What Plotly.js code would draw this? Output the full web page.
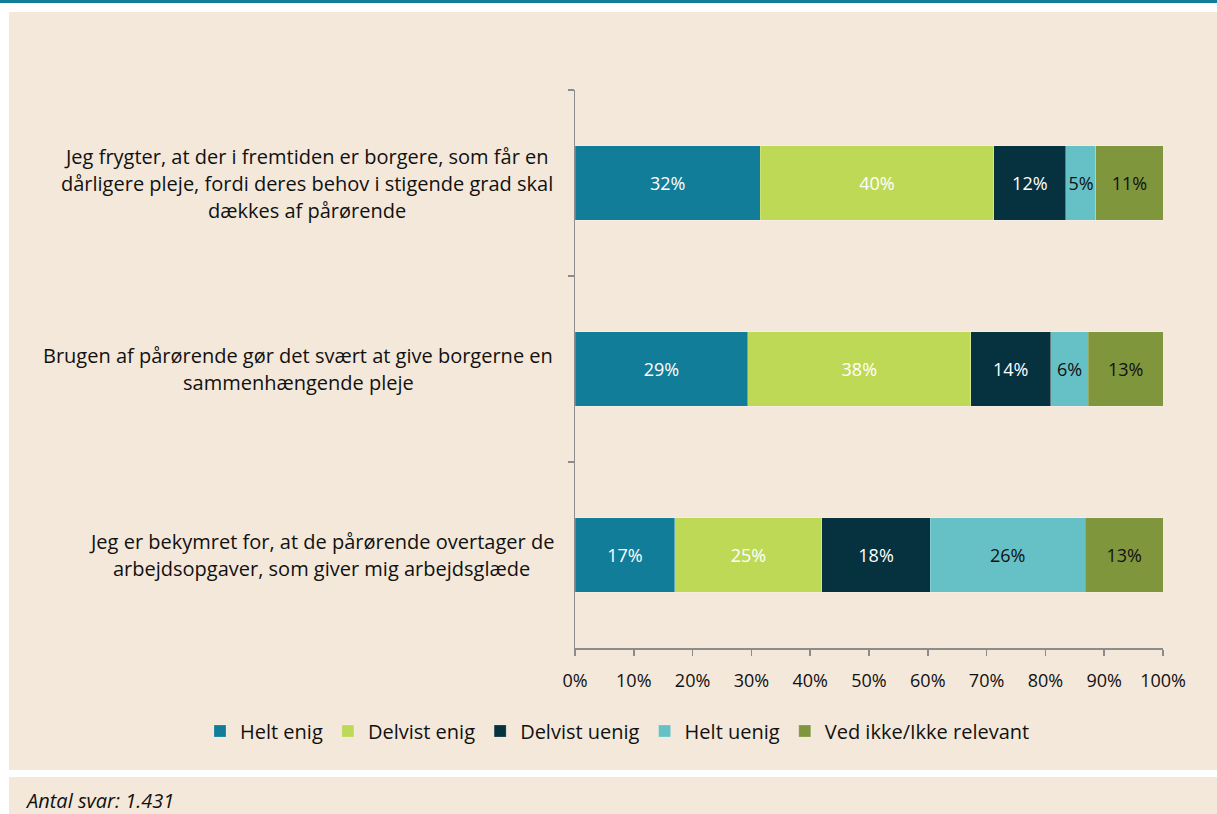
<!DOCTYPE html>
<html>
<head>
<meta charset="utf-8">
<script src="https://cdn.plot.ly/plotly-3.0.1.min.js"></script>
<style>html,body{margin:0;padding:0;background:#fff;}#chart{width:1217px;height:814px;}</style>
</head>
<body>
<div id="chart"></div>
<script>
// ---- data ----
const categories = [
  "Jeg frygter, at der i fremtiden er borgere, som får en<br>dårligere pleje, fordi deres behov i stigende grad skal<br>dækkes af pårørende",
  "Brugen af pårørende gør det svært at give borgerne en<br>sammenhængende pleje",
  "Jeg er bekymret for, at de pårørende overtager de<br>arbejdsopgaver, som giver mig arbejdsglæde"
];
const seriesNames = ["Helt enig", "Delvist enig", "Delvist uenig", "Helt uenig", "Ved ikke/Ikke relevant"];
const heltEnig     = [31.5, 29.4, 17.0];
const delvistEnig  = [39.7, 37.9, 25.0];
const delvistUenig = [12.3, 13.6, 18.4];
const heltUenig    = [5.1, 6.4, 26.4];
const vedIkke      = [11.4, 12.7, 13.2];
const xTickVals = [0,10,20,30,40,50,60,70,80,90,100];
const xTickText = ["0%","10%","20%","30%","40%","50%","60%","70%","80%","90%","100%"];
const footnote = "Antal svar: 1.431";

// ---- style ----
const W = 1217, H = 814;
const M = {l: 575, r: 54, t: 90, b: 166};
const PW = W - M.l - M.r, PH = H - M.t - M.b;
const px2x = p => (p - M.l) / PW;
const py2y = p => (H - M.b - p) / PH;
const FONT = "'Open Sans', 'Noto Sans', sans-serif";
const colors = ["#117D99", "#BED956", "#06313F", "#66C1C6", "#80963D"];
const textColors = ["#ffffff", "#ffffff", "#ffffff", "#111111", "#111111"];
const beige = "#F4E8DA";

const values = [heltEnig, delvistEnig, delvistUenig, heltUenig, vedIkke];
const traces = values.map((v, i) => ({
  type: "bar",
  orientation: "h",
  name: seriesNames[i],
  y: categories,
  x: v,
  marker: {color: colors[i], line: {color: "rgba(255,255,255,0.25)", width: 0.8}},
  texttemplate: "%{x:.0f}%",
  textposition: "inside",
  insidetextanchor: "middle",
  textangle: 0,
  constraintext: "none",
  textfont: {family: FONT, size: 18, color: textColors[i]},
  hoverinfo: "skip"
}));

// category labels as centered multi-line annotations
const ctx = document.createElement("canvas").getContext("2d");
const LBL_SIZE = 20;
ctx.font = LBL_SIZE + "px 'Open Sans'";
const annotations = [];
const lineGap = 27;
categories.forEach(cat => {
  const lines = cat.split("<br>");
  const maxW = Math.max(...lines.map(l => ctx.measureText(l).width));
  const cx = 553 - maxW / 2;
  lines.forEach((ln, i) => {
    annotations.push({
      xref: "paper", yref: "y", x: px2x(cx), y: cat,
      xanchor: "center", yanchor: "middle",
      yshift: -(i - (lines.length - 1) / 2) * lineGap,
      text: ln, showarrow: false,
      font: {family: FONT, size: LBL_SIZE, color: "#111111"}
    });
  });
});
annotations.push({
  xref: "paper", yref: "paper", x: px2x(23), y: py2y(800),
  xanchor: "left", yanchor: "middle", showarrow: false,
  text: "<i>" + footnote + "</i>",
  font: {family: FONT, size: 20, color: "#111111"}
});

const shapes = [
  {type: "rect", xref: "paper", yref: "paper", x0: px2x(0), x1: px2x(W), y0: py2y(12), y1: py2y(0), fillcolor: "#ffffff", line: {width: 0}, layer: "above"},
  {type: "rect", xref: "paper", yref: "paper", x0: px2x(0), x1: px2x(9), y0: py2y(H), y1: py2y(0), fillcolor: "#ffffff", line: {width: 0}, layer: "above"},
  {type: "rect", xref: "paper", yref: "paper", x0: px2x(0), x1: px2x(W), y0: py2y(777), y1: py2y(770), fillcolor: "#ffffff", line: {width: 0}, layer: "above"},
  {type: "rect", xref: "paper", yref: "paper", x0: px2x(0), x1: px2x(W), y0: py2y(3), y1: py2y(0), fillcolor: "#117D99", line: {width: 0}, layer: "above"}
];

const layout = {
  width: W, height: H,
  margin: M,
  paper_bgcolor: beige,
  plot_bgcolor: beige,
  barmode: "stack",
  bargap: 0.6,
  showlegend: true,
  font: {family: FONT, size: 18, color: "#111111"},
  xaxis: {
    range: [0, 100], tickvals: xTickVals, ticktext: xTickText,
    showgrid: false, zeroline: false,
    showline: true, linecolor: "#8C8C8C", linewidth: 1.5,
    ticks: "outside", ticklen: 6, tickcolor: "#8C8C8C", tickwidth: 1.5,
    ticklabelstandoff: 10,
    tickfont: {family: FONT, size: 18, color: "#111111"},
    fixedrange: true
  },
  yaxis: {
    autorange: "reversed",
    showticklabels: false,
    showgrid: false, zeroline: false,
    showline: true, linecolor: "#8C8C8C", linewidth: 1.5,
    ticks: "outside", ticklen: 6, tickcolor: "#8C8C8C", tickwidth: 1.5,
    tickson: "boundaries",
    fixedrange: true
  },
  legend: {
    orientation: "h",
    x: px2x(200), xanchor: "left",
    y: py2y(731), yanchor: "middle",
    font: {family: FONT, size: 20, color: "#111111"},
    bgcolor: "rgba(0,0,0,0)",
    traceorder: "normal",
    itemwidth: 30
  },
  annotations: annotations,
  shapes: shapes
};

Plotly.newPlot("chart", traces, layout, {displayModeBar: false, staticPlot: true});
</script>
</body>
</html>
